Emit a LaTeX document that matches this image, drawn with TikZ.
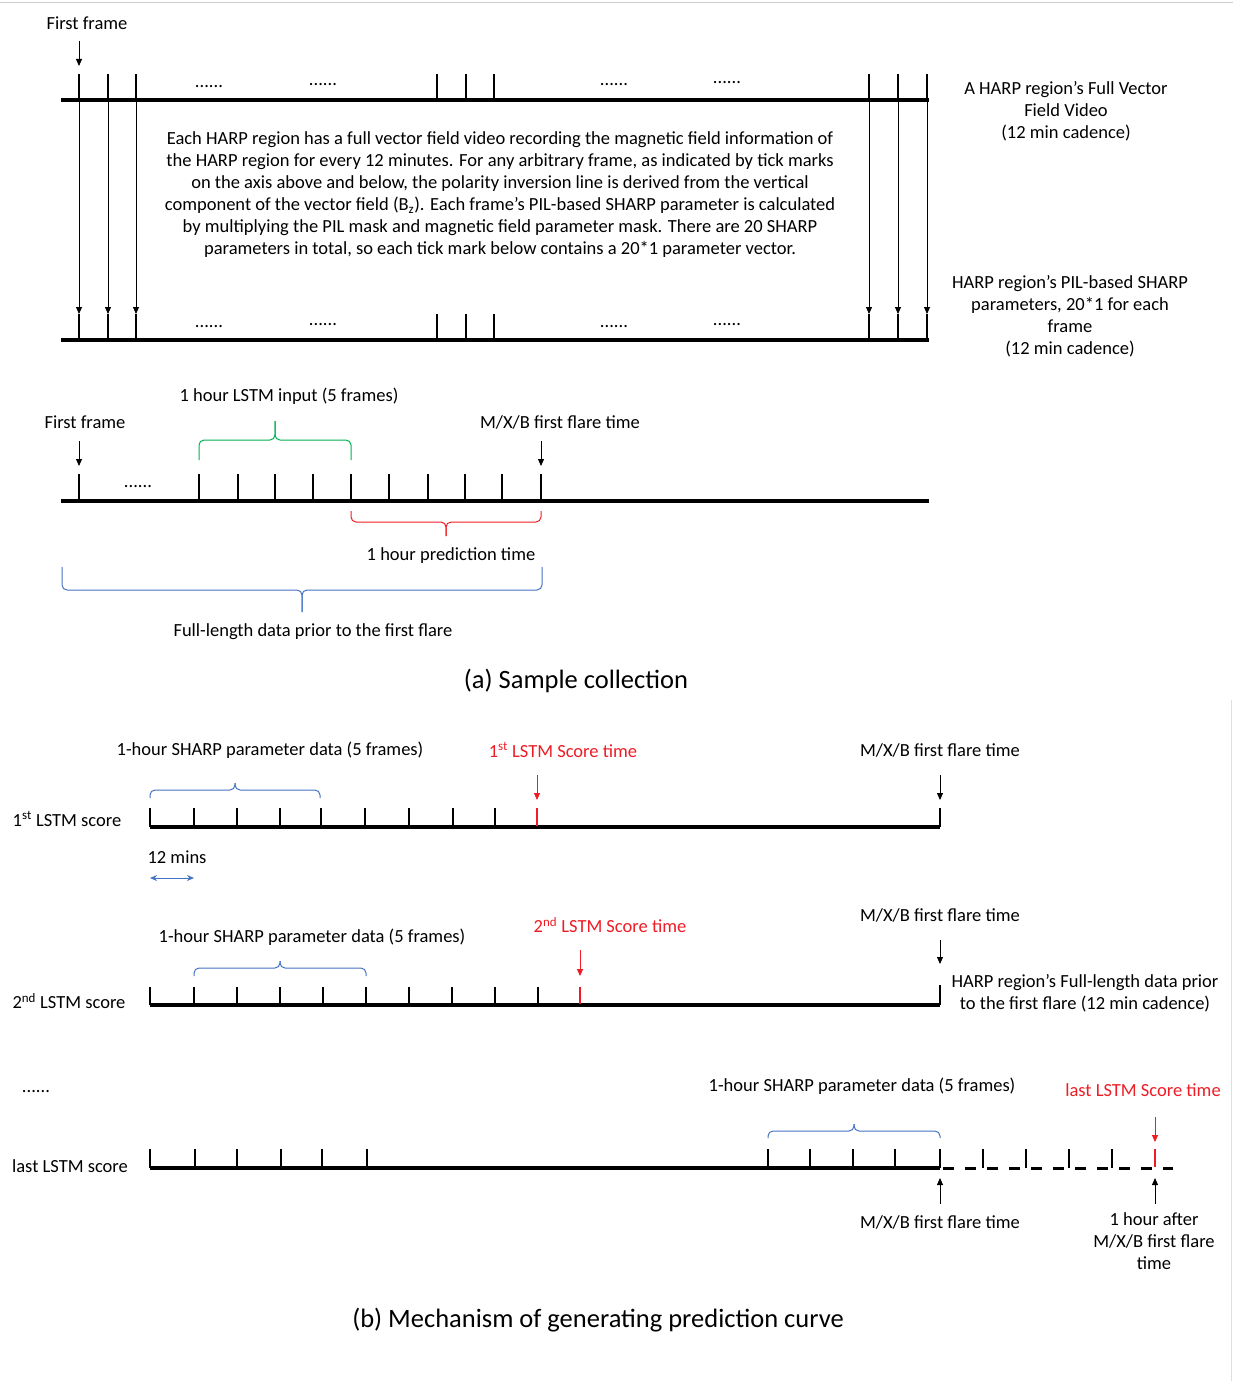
\documentclass[tikz,border=0pt]{standalone}
\usepackage{fontspec}
\setmainfont{Carlito}
\usetikzlibrary{arrows.meta}
\definecolor{myred}{RGB}{238,28,36}
\definecolor{mygreen}{RGB}{0,176,80}
\definecolor{myblue}{RGB}{68,114,196}
\newcommand\hbrace[6]{%
  \draw[#6, line width=1pt, rounded corners=5pt] (#1,#3) -- (#1,#4) -- ({(#1+#2)/2},#4) -- ({(#1+#2)/2},#5);
  \draw[#6, line width=1pt, rounded corners=5pt] (#2,#3) -- (#2,#4) -- ({(#1+#2)/2},#4) -- ({(#1+#2)/2},#5);}
\begin{document}
\begin{tikzpicture}[x=1pt,y=-1pt,
  lbl/.style={font=\fontsize{18.5}{22}\selectfont, inner sep=0pt, align=center},
  captxt/.style={font=\fontsize{26.5}{30}\selectfont, inner sep=0pt},
  dotsl/.style={font=\fontsize{18.5}{22}\selectfont, inner sep=0pt},
  axisl/.style={line width=3.2pt, line cap=butt},
  tk/.style={line width=2.6pt},
  rtk/.style={line width=2.8pt, myred},
  thinarr/.style={-{Triangle[width=6pt,length=7pt]}, line width=0.8pt},
  redarr/.style={-{Triangle[width=6pt,length=7pt]}, line width=0.9pt, myred}]
\useasboundingbox (0,0) rectangle (1233,1381);
\draw[gray!40, line width=1pt] (0,3) -- (1233,3);
\draw[gray!25, line width=1pt] (1231.5,700) -- (1231.5,1381);

% ---------- top: full vector field video ----------
\node[lbl] (ff1) at (87,23) {First frame};
\coordinate (ff1s) at (79,41); \coordinate (ff1e) at (79,66);
\draw[thinarr] (ff1s) -- (ff1e);
\draw[axisl] (61,100) -- (929,100);
\foreach \x in {79,108,136,437,466,494,869,898,927} \draw[tk] (\x,74) -- (\x,100);
\node[dotsl] (d1) at (209,87) {......};
\node[dotsl] (d2) at (323,85) {......};
\node[dotsl] (d3) at (614,85) {......};
\node[dotsl] (d4) at (727,83) {......};
\foreach \x in {79,108,136,869,898,927} {
  \coordinate (u\x) at (\x,100); \coordinate (l\x) at (\x,314);
  \draw[thinarr] (u\x) -- (l\x);}
\draw[axisl] (61,340) -- (929,340);
\foreach \x in {79,108,136,437,466,494,869,898,927} \draw[tk] (\x,314) -- (\x,340);
\node[dotsl] (d5) at (209,327) {......};
\node[dotsl] (d6) at (323,325) {......};
\node[dotsl] (d7) at (614,327) {......};
\node[dotsl] (d8) at (727,325) {......};
\node[lbl] (body) at (500,195) {Each HARP region has a full vector field video recording the magnetic field information of\\
the HARP region for every 12 minutes. For any arbitrary frame, as indicated by tick marks\\
on the axis above and below, the polarity inversion line is derived from the vertical\\
component of the vector field (B\textsubscript{z}). Each frame’s PIL-based SHARP parameter is calculated\\
by multiplying the PIL mask and magnetic field parameter mask. There are 20 SHARP\\
parameters in total, so each tick mark below contains a 20*1 parameter vector.};
\node[lbl] (rlab1) at (1066,111) {A HARP region’s Full Vector\\Field Video\\(12 min cadence)};
\node[lbl] (rlab2) at (1070,316) {HARP region’s PIL-based SHARP\\parameters, 20*1 for each\\frame\\(12 min cadence)};

% ---------- sample collection ----------
\node[lbl] (lstmin) at (289,396) {1 hour LSTM input (5 frames)};
\node[lbl] (ff2) at (85,422) {First frame};
\node[lbl] (mxb1) at (560,422) {M/X/B first flare time};
\coordinate (ff2s) at (79,441); \coordinate (ff2e) at (79,466);
\draw[thinarr] (ff2s) -- (ff2e);
\coordinate (mxb1s) at (541,441); \coordinate (mxb1e) at (541,466);
\draw[thinarr] (mxb1s) -- (mxb1e);
\draw[axisl] (61,501) -- (929,501);
\foreach \x in {79,199,238,275,313,351,389,428,465,502,541} \draw[tk] (\x,474) -- (\x,501);
\node[dotsl] (d9) at (138,487) {......};
\hbrace{199}{351}{460}{440}{421}{mygreen}
\hbrace{351}{541}{511}{522}{536}{myred}
\node[lbl] (predt) at (451,556) {1 hour prediction time};
\hbrace{62}{542}{567}{590}{612}{myblue}
\node[lbl] (full) at (313,632) {Full-length data prior to the first flare};
\node[captxt] (capa) at (576,681) {(a) Sample collection};

% ---------- 1st LSTM score ----------
\node[lbl] (sh1) at (270,750) {1-hour SHARP parameter data (5 frames)};
\node[lbl, text=myred] (s1t) at (563,750) {1\textsuperscript{st} LSTM Score time};
\node[lbl] (mxb2) at (940,750) {M/X/B first flare time};
\node[lbl] (row1) at (67,819) {1\textsuperscript{st} LSTM score};
\hbrace{150}{320}{798}{790}{783}{myblue}
\draw[axisl] (150,827) -- (940,827);
\foreach \x in {150,194,237,280,321,365,409,453,495,940} \draw[tk] (\x,808) -- (\x,827);
\draw[rtk] (537,808) -- (537,826);
\coordinate (s1a) at (537,775); \coordinate (s1b) at (537,800);
\draw[redarr] (s1a) -- (s1b);
\coordinate (m2a) at (940,775); \coordinate (m2b) at (940,800);
\draw[thinarr] (m2a) -- (m2b);
\node[lbl] (mins) at (177,857) {12 mins};
\coordinate (ma) at (150,878); \coordinate (mb) at (194,878);
\draw[myblue, line width=1pt, {Stealth[length=7pt,width=6pt]}-{Stealth[length=7pt,width=6pt]}] (ma) -- (mb);

% ---------- 2nd LSTM score ----------
\node[lbl] (mxb3) at (940,915) {M/X/B first flare time};
\node[lbl, text=myred] (s2t) at (610,925) {2\textsuperscript{nd} LSTM Score time};
\node[lbl] (sh2) at (312,937) {1-hour SHARP parameter data (5 frames)};
\hbrace{194}{366}{976}{968}{961}{myblue}
\coordinate (s2a) at (580,950); \coordinate (s2b) at (580,976);
\draw[redarr] (s2a) -- (s2b);
\coordinate (m3a) at (940,940); \coordinate (m3b) at (940,964);
\draw[thinarr] (m3a) -- (m3b);
\draw[axisl] (150,1005) -- (940,1005);
\foreach \x in {150,194,237,280,323,366,409,452,495,538} \draw[tk] (\x,987) -- (\x,1005);
\draw[tk] (940,985) -- (940,1005);
\draw[rtk] (580,987) -- (580,1004);
\node[lbl] (row2) at (69,1001) {2\textsuperscript{nd} LSTM score};
\node[lbl] (hfull) at (1085,993) {HARP region’s Full-length data prior\\to the first flare (12 min cadence)};

% ---------- last LSTM score ----------
\node[dotsl] (d10) at (36,1092) {......};
\node[lbl] (sh3) at (862,1086) {1-hour SHARP parameter data (5 frames)};
\node[lbl, text=myred] (s3t) at (1143,1090) {last LSTM Score time};
\node[lbl] (row3) at (70,1166) {last LSTM score};
\hbrace{768}{940}{1138}{1131}{1124}{myblue}
\draw[axisl] (150,1168) -- (940,1168);
\foreach \x in {150,195,237,281,322,367,768,810,853,895,940,983,1026,1069,1112} \draw[tk] (\x,1149) -- (\x,1168);
\draw[line width=3pt, dash pattern=on 11pt off 11pt] (943,1168) -- (1173,1168);
\draw[rtk] (1155,1149) -- (1155,1167);
\coordinate (s3a) at (1155,1117); \coordinate (s3b) at (1155,1142);
\draw[redarr] (s3a) -- (s3b);
\coordinate (m4a) at (940,1204); \coordinate (m4b) at (940,1178);
\draw[thinarr] (m4a) -- (m4b);
\coordinate (h1a) at (1155,1204); \coordinate (h1b) at (1155,1178);
\draw[thinarr] (h1a) -- (h1b);
\node[lbl] (mxb4) at (940,1222) {M/X/B first flare time};
\node[lbl] (after) at (1154,1241) {1 hour after\\M/X/B first flare\\time};
\node[captxt] (capb) at (598,1320) {(b) Mechanism of generating prediction curve};
\end{tikzpicture}
\end{document}
